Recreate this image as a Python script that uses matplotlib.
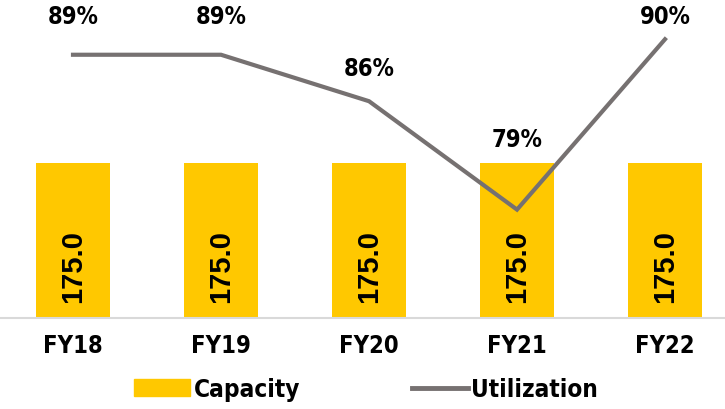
import matplotlib
matplotlib.use("Agg")
from matplotlib import pyplot as plt
from matplotlib.patches import Patch
from matplotlib.lines import Line2D
from matplotlib.font_manager import FontProperties
import numpy as np

years = ["FY18", "FY19", "FY20", "FY21", "FY22"]
capacity = [175.0, 175.0, 175.0, 175.0, 175.0]
utilization = [89, 89, 86, 79, 90]

# vertical offsets (px) of the % labels above each point
label_offsets = [39, 39, 33, 71, 23]

yellow = "#FFC800"
grey = "#767171"


def cond(size):
    return FontProperties(family="DejaVu Sans", stretch="condensed", weight="bold", size=size)


fig = plt.figure(figsize=(7.25, 4.1), dpi=100)
ax = fig.add_axes([0.0, (410 - 319) / 410, 1.0, 319 / 410])
ax2 = ax.twinx()

x = np.arange(len(years))
ax.bar(x, capacity, width=0.5, color=yellow, zorder=1)
ax.set_xlim(-73 / 148, 4 + 60 / 148)
ax.set_ylim(0, 360)

for xi, c in zip(x, capacity):
    ax.text(xi, c * 0.34, f"{c:.1f}", rotation=90, ha="center", va="center",
            fontsize=21, fontweight="bold", family="Liberation Sans", color="black")

ax2.plot(x, utilization, color=grey, lw=3, solid_joinstyle="miter", zorder=3)
ax2.set_ylim(72.0, 92.6)
ax.set_zorder(1)
ax2.set_zorder(2)
ax.patch.set_visible(False)

for xi, u, off in zip(x, utilization, label_offsets):
    ax2.annotate(f"{u}%", (xi, u), xytext=(0, off * 0.72), textcoords="offset points",
                 ha="center", va="center", fontproperties=cond(17), color="black")

for a in (ax, ax2):
    for s in ("top", "right", "left"):
        a.spines[s].set_visible(False)
    a.set_yticks([])
ax.spines["bottom"].set_color("#D9D9D9")
ax.spines["bottom"].set_linewidth(1.5)
ax2.spines["bottom"].set_visible(False)

ax.set_xticks(x)
ax.set_xticklabels(years)
for lbl in ax.get_xticklabels():
    lbl.set_fontproperties(cond(17))
ax.tick_params(axis="x", length=0, pad=11)

handles = [Patch(color=yellow, label="Capacity"),
           Line2D([0], [0], color=grey, lw=3.5, label="Utilization")]
fig.legend(handles=handles, loc="lower center", bbox_to_anchor=(0.505, -0.035), ncol=2,
           frameon=False, handlelength=2.3, handletextpad=0.15, columnspacing=4.6,
           prop=cond(17.5))

fig.savefig("out.png", dpi=100)
